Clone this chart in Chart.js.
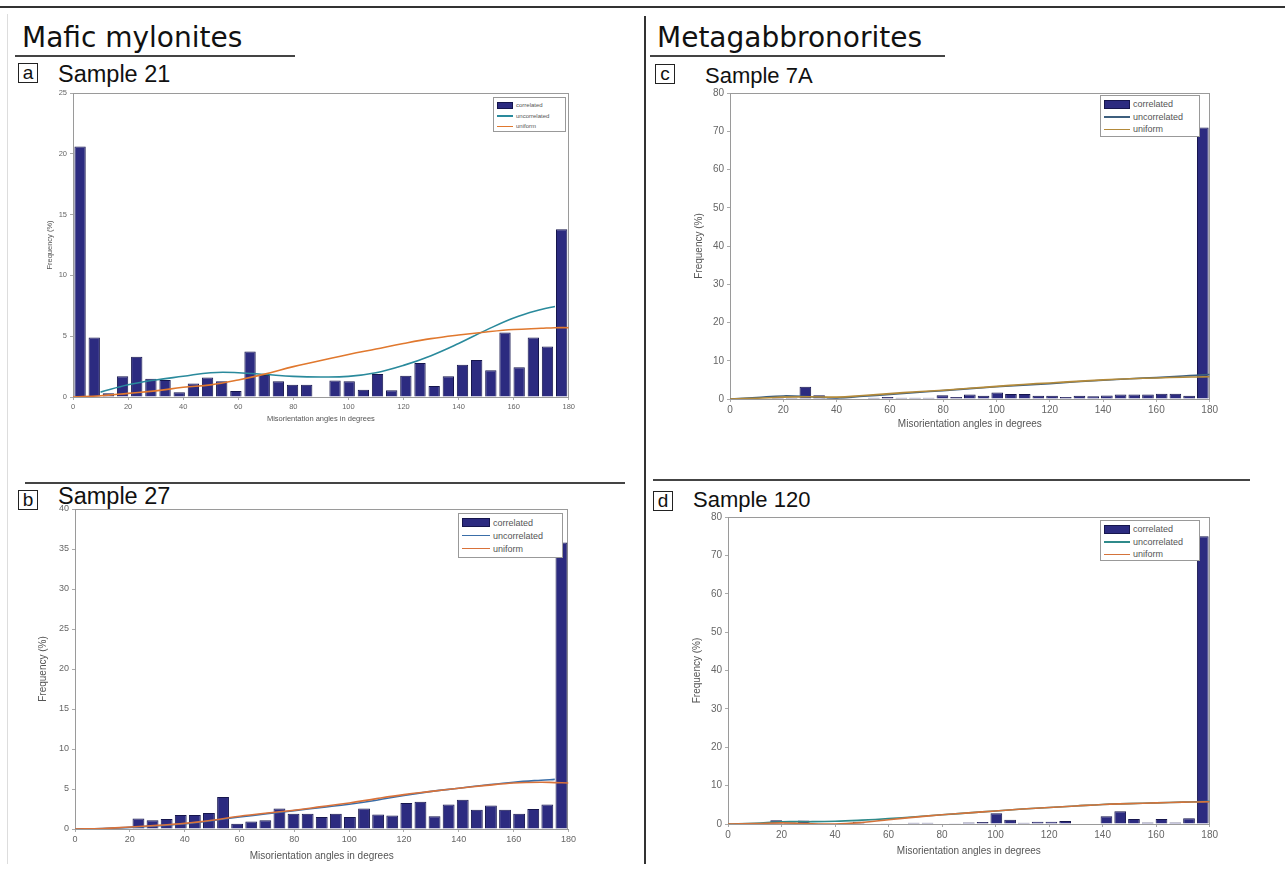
<!DOCTYPE html>
<html><head><meta charset="utf-8">
<script src="https://cdn.jsdelivr.net/npm/chart.js@4.4.1/dist/chart.umd.min.js"></script>
<style>
body{margin:0;background:#fff;width:1285px;height:876px;position:relative;overflow:hidden;font-family:'Liberation Sans',Arial,sans-serif;color:#111;}
.abs{position:absolute;}
.hdr{font-family:'DejaVu Sans',Verdana,sans-serif;font-size:28px;color:#111;white-space:nowrap;line-height:1;}
.smp{font-size:22px;white-space:nowrap;line-height:1;color:#111;}
.lbl{border:1.3px solid #222;font-size:19px;line-height:17px;text-align:center;width:18px;height:18px;box-sizing:content-box;color:#111;}
.hl{background:#444;height:1.5px;}
.vl{background:#333;width:2px;}
.leg{background:#fff;border:1px solid #999;box-sizing:border-box;color:#555;}
.leg .row{display:flex;align-items:center;white-space:nowrap;}
.leg .sw{display:inline-block;flex:none;}
</style></head><body>

<script>
// ---------- data ----------
// 35 histogram bins over 0-180 degrees (lower edge of each bin)
const BIN_LABELS = ['0.0','5.1','10.3','15.4','20.6','25.7','30.9','36.0','41.1','46.3','51.4','56.6','61.7','66.9','72.0','77.1','82.3','87.4','92.6','97.7','102.9','108.0','113.1','118.3','123.4','128.6','133.7','138.9','144.0','149.1','154.3','159.4','164.6','169.7','174.9'];
const CURVE_X = [0,10,20,30,40,50,60,70,80,90,100,110,120,130,140,150,160,170,175,180];
const X_TICKS = [0,20,40,60,80,100,120,140,160,180];
const SERIES_NAMES = ['correlated','uncorrelated','uniform'];

// (a) Sample 21
const corr21    = [20.6,4.9,0.3,1.7,3.3,1.5,1.4,0.4,1.1,1.6,1.3,0.5,3.75,1.8,1.3,1.0,1.0,0,1.35,1.3,0.6,1.9,0.55,1.75,2.8,0.9,1.7,2.65,3.05,2.2,5.3,2.45,4.9,4.15,13.8];
const uncorr21  = [null,0.4,1.0,1.4,1.7,2.0,2.0,1.85,1.7,1.65,1.7,2.0,2.6,3.4,4.4,5.5,6.5,7.2,7.45,null];
const uniform21 = [0,0.1,0.3,0.5,0.8,1.0,1.4,1.9,2.5,3.0,3.5,3.95,4.4,4.8,5.1,5.35,5.55,5.65,5.7,5.7];
// (b) Sample 27
const corr27    = [0,0,0,0,1.3,1.1,1.25,1.75,1.75,2.0,4.0,0.67,0.95,1.1,2.55,1.9,1.9,1.5,1.9,1.5,2.55,1.8,1.7,3.25,3.4,1.6,3.05,3.65,2.4,2.95,2.4,1.9,2.5,3.05,35.8];
const uncorr27  = [0,0.05,0.2,0.4,0.65,1.05,1.5,1.9,2.3,2.7,3.1,3.6,4.2,4.7,5.1,5.5,5.85,6.1,6.2,null];
const uniform27 = [0,0.05,0.25,0.45,0.7,1.1,1.6,2.0,2.35,2.8,3.25,3.8,4.3,4.7,5.1,5.45,5.75,5.85,5.8,5.75];
// (c) Sample 7A
const corr7A    = [0,0,0,0.4,0.3,3.2,1.0,0.3,0.2,0,0.3,0.5,0.3,0.3,0.3,1.0,0.5,1.2,0.85,1.7,1.3,1.3,0.85,0.85,0.5,0.85,0.7,0.9,1.2,1.2,1.2,1.35,1.35,0.85,71];
const uncorr7A  = [0,0.4,0.8,0.6,0.3,0.7,1.2,1.7,2.2,2.7,3.2,3.6,4.0,4.5,4.9,5.3,5.6,6.0,6.2,6.4];
const uniform7A = [0,0.2,0.5,0.6,0.5,0.9,1.4,1.9,2.3,2.8,3.3,3.8,4.2,4.6,5.0,5.3,5.5,5.7,5.75,5.8];
// (d) Sample 120
const corr120    = [0,0,0,1.0,0.4,0.9,0.2,0,0,0.6,0,0.2,0,0.3,0.3,0.1,0.2,0.4,0.5,2.8,1.1,0.3,0.6,0.6,0.8,0,0,2.0,3.3,1.3,0.4,1.3,0.4,1.5,75];
const uncorr120  = [0,0.2,0.6,0.6,0.7,1.0,1.4,1.9,2.4,2.9,3.4,3.9,4.3,4.7,5.1,5.3,5.5,5.7,5.8,5.9];
const uniform120 = [0,0.1,0.3,0.1,0.0,0.4,1.1,1.8,2.4,2.9,3.4,3.9,4.3,4.7,5.1,5.3,5.5,5.7,5.75,5.8];

const X_TITLE = 'Misorientation angles in degrees';
const Y_TITLE = 'Frequency (%)';
</script>

<!-- frame / decorations -->
<div class="abs" style="left:0;top:6px;width:1285px;height:2px;background:#333"></div>
<div class="abs" style="left:7px;top:14px;width:1px;height:850px;background:#ddd"></div>
<div class="abs vl" style="left:644px;top:16px;height:848px"></div>

<div class="abs hdr" style="left:22px;top:24px">Mafic mylonites</div>
<div class="abs hl" style="left:15px;top:55px;width:280px"></div>
<div class="abs hdr" style="left:657px;top:24px">Metagabbronorites</div>
<div class="abs hl" style="left:650px;top:55px;width:295px"></div>

<div class="abs lbl" style="left:18px;top:63px">a</div>
<div class="abs smp" style="left:58px;top:63px;font-size:23.5px">Sample 21</div>
<div class="abs lbl" style="left:655px;top:64px">c</div>
<div class="abs smp" style="left:705px;top:65px">Sample 7A</div>

<div class="abs hl" style="left:25px;top:482px;width:600px"></div>
<div class="abs lbl" style="left:18px;top:490px">b</div>
<div class="abs smp" style="left:58px;top:485px;font-size:23.5px">Sample 27</div>
<div class="abs hl" style="left:653px;top:479px;width:597px"></div>
<div class="abs lbl" style="left:653px;top:491px">d</div>
<div class="abs smp" style="left:693px;top:489px">Sample 120</div>

<canvas id="ca" class="abs"></canvas>
<canvas id="cb" class="abs"></canvas>
<canvas id="cc" class="abs"></canvas>
<canvas id="cd" class="abs"></canvas>

<script>
const BAR_FILL = '#2c2b80';
const BAR_EDGE = '#16164d';

const boxPlugin = {
  id: 'plotBox',
  beforeDatasetsDraw(chart) {
    const {ctx, chartArea: a} = chart;
    ctx.save();
    ctx.strokeStyle = '#9a9a9a';
    ctx.lineWidth = 1;
    ctx.strokeRect(Math.round(a.left) + 0.5, Math.round(a.top) + 0.5, Math.round(a.width) - 1, Math.round(a.height));
    ctx.restore();
  }
};

function curve(xs, ys) {
  const out = [];
  xs.forEach((x, i) => { if (ys[i] !== null && ys[i] !== undefined) out.push({x: x, y: ys[i]}); });
  return out;
}

function makeLegend(g, colors) {
  const d = document.createElement('div');
  d.className = 'abs leg';
  d.style.left = g.x + 'px'; d.style.top = g.y + 'px';
  d.style.width = g.w + 'px'; d.style.height = g.h + 'px';
  d.style.fontSize = g.fs + 'px';
  d.style.padding = g.pad + 'px 3px 0 3px';
  SERIES_NAMES.forEach((name, i) => {
    const r = document.createElement('div');
    r.className = 'row';
    r.style.height = g.rh + 'px';
    const s = document.createElement('span');
    s.className = 'sw';
    s.style.width = g.sw + 'px';
    s.style.marginRight = '3px';
    if (i === 0) { s.style.height = g.bh + 'px'; s.style.background = BAR_FILL; s.style.border = '1px solid ' + BAR_EDGE; s.style.boxSizing='border-box'; }
    else { s.style.height = '1.5px'; s.style.background = colors[i]; }
    r.appendChild(s);
    const t = document.createElement('span');
    t.textContent = name;
    r.appendChild(t);
    d.appendChild(r);
  });
  document.body.appendChild(d);
}

function makePanel(p) {
  const cv = document.getElementById(p.id);
  cv.width = p.w; cv.height = p.h;
  cv.style.left = p.x + 'px'; cv.style.top = p.y + 'px';
  cv.style.width = p.w + 'px'; cv.style.height = p.h + 'px';
  const fam = "'Liberation Sans', Arial, sans-serif";
  new Chart(cv, {
    type: 'bar',
    data: {
      labels: BIN_LABELS,
      datasets: [
        {type: 'bar', label: SERIES_NAMES[0], data: p.bars, xAxisID: 'xb', yAxisID: 'y',
         backgroundColor: BAR_FILL, borderColor: BAR_EDGE, borderWidth: 1, grouped: false,
         barPercentage: p.barPct, categoryPercentage: 1.0, order: 3},
        {type: 'line', label: SERIES_NAMES[1], data: curve(CURVE_X, p.uncorr), xAxisID: 'x', yAxisID: 'y',
         borderColor: p.colors[1], borderWidth: 1.6, pointRadius: 0, tension: 0.4, fill: false, order: 2},
        {type: 'line', label: SERIES_NAMES[2], data: curve(CURVE_X, p.unif), xAxisID: 'x', yAxisID: 'y',
         borderColor: p.colors[2], borderWidth: 1.6, pointRadius: 0, tension: 0.4, fill: false, order: 1}
      ]
    },
    options: {
      responsive: false, animation: false, devicePixelRatio: 1,
      layout: {padding: {top: p.padT, right: p.padR, left: 0, bottom: 0}},
      plugins: {legend: {display: false}, tooltip: {enabled: false}},
      scales: {
        xb: {type: 'category', labels: BIN_LABELS, offset: true, display: false, grid: {display: false}},
        x: {type: 'linear', position: 'bottom', min: 0, max: 180, offset: false,
            afterBuildTicks: s => { s.ticks = X_TICKS.map(v => ({value: v})); },
            ticks: {color: '#666', font: {size: p.tickFs, family: fam}, padding: p.tickPad, maxRotation: 0, autoSkip: false},
            grid: {display: true, drawOnChartArea: false, drawTicks: true, tickLength: 3, color: '#aaa', offset: false},
            border: {display: true, color: '#999'},
            title: {display: true, text: X_TITLE, color: '#555', font: {size: p.titleFs, family: fam}, padding: {top: 0, bottom: p.xTitlePadB}},
            afterFit: s => { s.height = p.hx; }},
        y: {type: 'linear', position: 'left', min: 0, max: p.yMax,
            ticks: {stepSize: p.yStep, color: '#666', font: {size: p.tickFs, family: fam}, padding: 3},
            grid: {display: true, drawOnChartArea: false, drawTicks: true, tickLength: 3, color: '#aaa'},
            border: {display: true, color: '#999'},
            title: {display: true, text: Y_TITLE, color: '#555', font: {size: p.titleFs, family: fam}, padding: {top: p.yTitlePad, bottom: 0}},
            afterFit: s => { s.width = p.wy; }}
      }
    },
    plugins: [boxPlugin]
  });
  makeLegend(p.legend, p.colors);
}

makePanel({id: 'ca', x: 43, y: 83, w: 534, h: 344, wy: 30, hx: 30, padT: 10, padR: 8,
  yMax: 25, yStep: 5, tickFs: 7.5, titleFs: 7.5, tickPad: 2, xTitlePadB: 4, yTitlePad: 2, barPct: 0.8,
  bars: corr21, uncorr: uncorr21, unif: uniform21, colors: [BAR_FILL, '#2a8a9c', '#e0782e'],
  legend: {x: 493, y: 97, w: 73, h: 35, fs: 6, rh: 10.5, sw: 16, bh: 7, pad: 2}});

makePanel({id: 'cb', x: 34, y: 500, w: 544, h: 366, wy: 41, hx: 37, padT: 9, padR: 8,
  yMax: 40, yStep: 5, tickFs: 9, titleFs: 10, tickPad: 2, xTitlePadB: 4, yTitlePad: 3, barPct: 0.84,
  bars: corr27, uncorr: uncorr27, unif: uniform27, colors: [BAR_FILL, '#3a6ea8', '#d9723a'],
  legend: {x: 458, y: 513, w: 105, h: 45, fs: 9, rh: 13, sw: 28, bh: 9, pad: 2}});

makePanel({id: 'cc', x: 690, y: 84, w: 530, h: 350, wy: 40, hx: 35, padT: 9, padR: 10,
  yMax: 80, yStep: 10, tickFs: 10, titleFs: 10, tickPad: 2, xTitlePadB: 4, yTitlePad: 3, barPct: 0.85,
  bars: corr7A, uncorr: uncorr7A, unif: uniform7A, colors: [BAR_FILL, '#3d5f7e', '#b38a3a'],
  legend: {x: 1100, y: 95, w: 100, h: 42, fs: 9, rh: 12.5, sw: 26, bh: 9, pad: 2}});

makePanel({id: 'cd', x: 688, y: 508, w: 532, h: 353, wy: 40, hx: 37, padT: 9, padR: 10,
  yMax: 80, yStep: 10, tickFs: 10, titleFs: 10, tickPad: 2, xTitlePadB: 4, yTitlePad: 3, barPct: 0.85,
  bars: corr120, uncorr: uncorr120, unif: uniform120, colors: [BAR_FILL, '#2f8a8a', '#d4733a'],
  legend: {x: 1100, y: 520, w: 100, h: 41, fs: 9, rh: 12.5, sw: 26, bh: 9, pad: 2}});
</script>
</body></html>
